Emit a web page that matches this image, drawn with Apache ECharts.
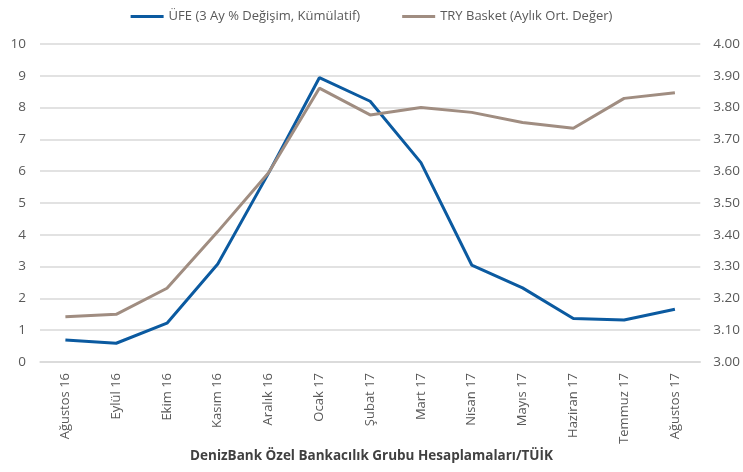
<!DOCTYPE html>
<html><head><meta charset="utf-8">
<script src="https://cdn.jsdelivr.net/npm/echarts@6/dist/echarts.min.js"></script>
<style>html,body{margin:0;padding:0;background:#fff}#c{width:743px;height:472px}</style>
</head><body><div id="c"></div>
<script>
var categories = ['Ağustos 16','Eylül 16','Ekim 16','Kasım 16','Aralık 16','Ocak 17','Şubat 17','Mart 17','Nisan 17','Mayıs 17','Haziran 17','Temmuz 17','Ağustos 17'];
var ufe = [0.69, 0.59, 1.22, 3.08, 5.94, 8.94, 8.2, 6.27, 3.05, 2.33, 1.37, 1.32, 1.66];
var tryBasket = [3.142, 3.150, 3.232, 3.41, 3.595, 3.861, 3.777, 3.80, 3.785, 3.753, 3.735, 3.829, 3.847];
var leftTicks = {min: 0, max: 10, interval: 1};
var rightTicks = {min: 3.0, max: 4.0, interval: 0.1};
var nameUfe = 'ÜFE (3 Ay % Değişim, Kümülatif)';
var nameTry = 'TRY Basket (Aylık Ort. Değer)';
var footer = 'DenizBank Özel Bankacılık Grubu Hesaplamaları/TÜİK';

var font = 'Open Sans, Liberation Sans, sans-serif';
var chart = echarts.init(document.getElementById('c'));
chart.setOption({
  animation: false,
  textStyle: {fontFamily: font},
  legend: {
    top: 5, left: 'center', itemWidth: 33, itemHeight: 3, itemGap: 42,
    icon: 'rect',
    textStyle: {color: '#595959', fontSize: 13, fontFamily: font},
    data: [nameUfe, nameTry]
  },
  title: {
    text: footer, left: 'center', bottom: 4,
    textStyle: {color: '#404040', fontSize: 13.5, fontWeight: 'bold', fontFamily: font}
  },
  grid: {left: 40, right: 40, top: 44, bottom: 110, containLabel: false},
  xAxis: {
    type: 'category', data: categories, boundaryGap: true,
    axisLine: {show: true, lineStyle: {color: '#d9d9d9', width: 1.5}},
    axisTick: {show: false},
    axisLabel: {rotate: 90, color: '#595959', fontSize: 13, margin: 11, fontFamily: font}
  },
  yAxis: [{
    type: 'value', min: leftTicks.min, max: leftTicks.max, interval: leftTicks.interval,
    axisLine: {show: false}, axisTick: {show: false},
    axisLabel: {color: '#595959', fontSize: 13.5, margin: 14, fontFamily: font},
    splitLine: {lineStyle: {color: '#d9d9d9', width: 1.5}}
  }, {
    type: 'value', min: rightTicks.min, max: rightTicks.max, interval: rightTicks.interval,
    axisLine: {show: false}, axisTick: {show: false},
    axisLabel: {color: '#595959', fontSize: 13.5, margin: 13, fontFamily: font,
      formatter: function(v){return v.toFixed(2);}},
    splitLine: {show: false}
  }],
  series: [{
    name: nameUfe, type: 'line', data: ufe, yAxisIndex: 0,
    showSymbol: false, symbol: 'none',
    lineStyle: {color: '#0b5aa0', width: 3}, itemStyle: {color: '#0b5aa0'}
  }, {
    name: nameTry, type: 'line', data: tryBasket, yAxisIndex: 1,
    showSymbol: false, symbol: 'none',
    lineStyle: {color: '#a08d81', width: 3}, itemStyle: {color: '#a08d81'}
  }]
});
</script></body></html>
